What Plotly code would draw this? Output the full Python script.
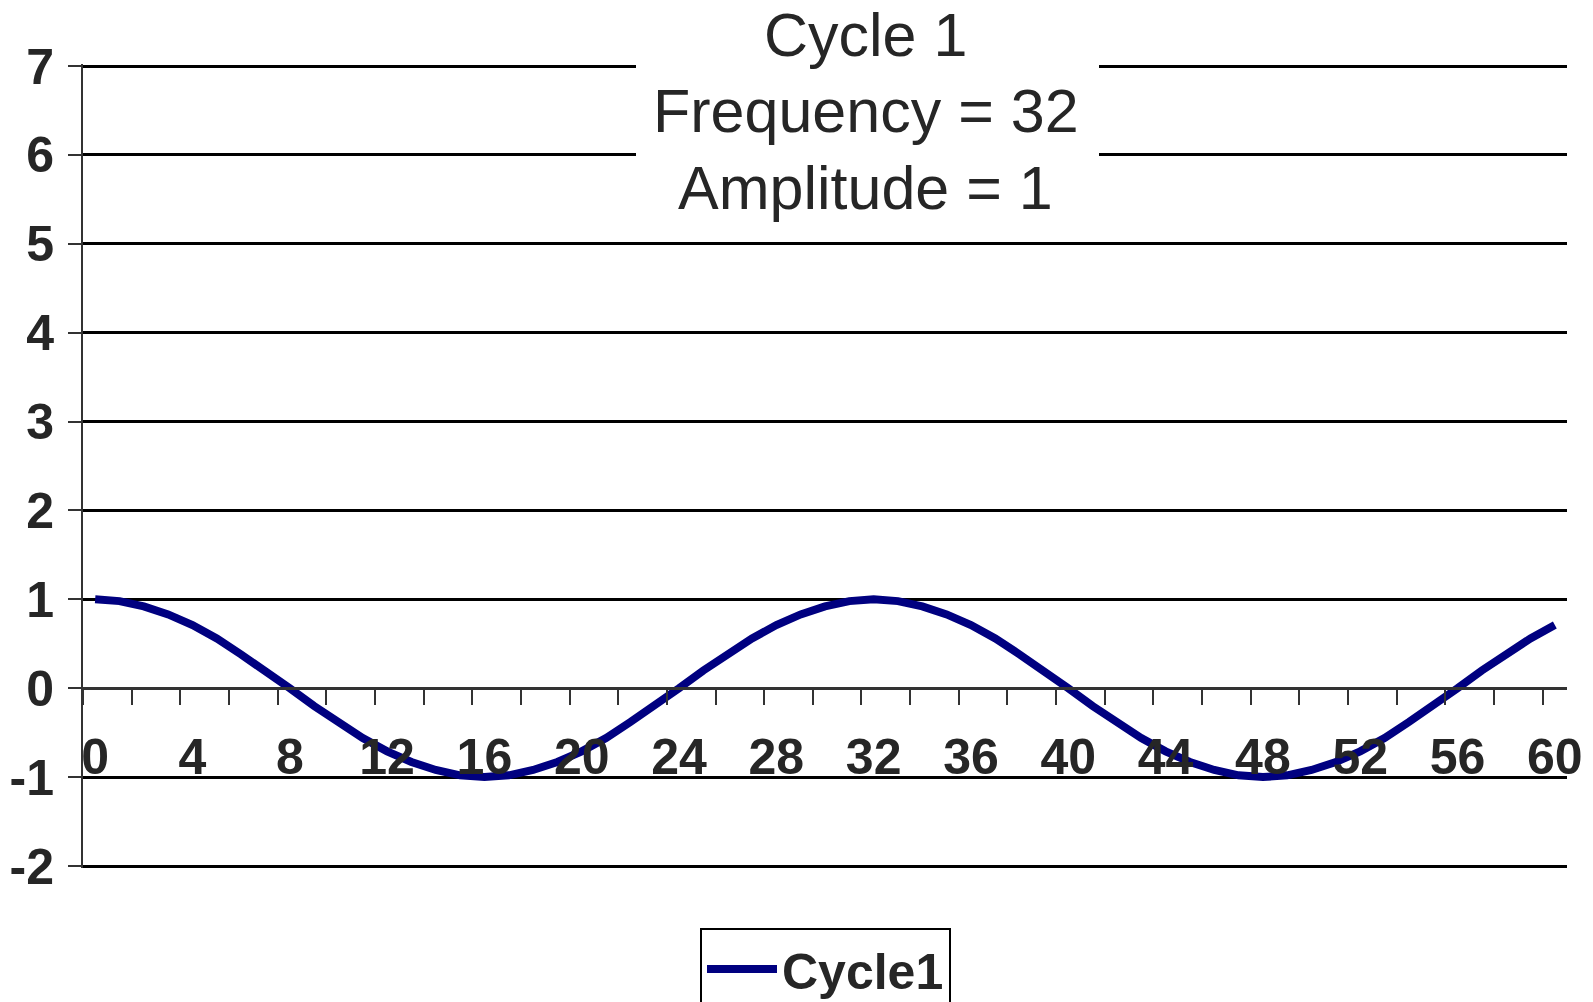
import plotly.graph_objects as go

NAVY = "#000080"
INK = "#262626"
FONT = "Liberation Sans, Arial, sans-serif"

# one value per sample point 0..60
x_points = list(range(61))
cycle1 = [
    1.00, 0.98, 0.92, 0.83, 0.71, 0.56, 0.38, 0.20, 0.00, -0.20,
    -0.38, -0.56, -0.71, -0.83, -0.92, -0.98, -1.00, -0.98, -0.92, -0.83,
    -0.71, -0.56, -0.38, -0.20, 0.00, 0.20, 0.38, 0.56, 0.71, 0.83,
    0.92, 0.98, 1.00, 0.98, 0.92, 0.83, 0.71, 0.56, 0.38, 0.20,
    0.00, -0.20, -0.38, -0.56, -0.71, -0.83, -0.92, -0.98, -1.00, -0.98,
    -0.92, -0.83, -0.71, -0.56, -0.38, -0.20, 0.00, 0.20, 0.38, 0.56,
    0.71,
]
x_tick_vals = [0, 4, 8, 12, 16, 20, 24, 28, 32, 36, 40, 44, 48, 52, 56, 60]
x_tick_text = ["0", "4", "8", "12", "16", "20", "24", "28", "32", "36", "40", "44", "48", "52", "56", "60"]
y_tick_vals = [-2, -1, 0, 1, 2, 3, 4, 5, 6, 7]
y_tick_text = ["-2", "-1", "0", "1", "2", "3", "4", "5", "6", "7"]
title_lines = ["Cycle 1", "Frequency = 32", "Amplitude = 1"]

# page pixels -> paper coords (page body adds 8px left/top)
PLOT_L, PLOT_W = 83, 1484
PLOT_T, PLOT_H = 64, 804


def px_x(p):
    return (p - PLOT_L) / PLOT_W


def px_y(p):
    return 1 - (p - PLOT_T) / PLOT_H


fig = go.Figure()
fig.add_trace(go.Scatter(
    x=x_points, y=cycle1, name="Cycle1", mode="lines",
    line=dict(color=NAVY, width=8), hoverinfo="skip",
))

fig.update_layout(
    width=1593, height=1002,
    margin=dict(l=75, r=34, t=56, b=142, autoexpand=False),
    paper_bgcolor="white", plot_bgcolor="white",
    font=dict(family=FONT, color=INK),
    showlegend=True,
    legend=dict(
        x=px_x(700), y=px_y(928), xanchor="left", yanchor="top",
        bordercolor="black", borderwidth=2, bgcolor="white",
        itemwidth=70,
        font=dict(size=50, family=FONT, color=INK, weight="bold"),
    ),
)

fig.update_xaxes(
    range=[-0.5, 60.5], tickmode="array", tickvals=x_tick_vals, ticktext=x_tick_text,
    ticks="", showgrid=False, zeroline=False,
    showline=True, linecolor="#333333", linewidth=3,
    anchor="free", position=px_y(688), ticklabelstandoff=24,
    tickfont=dict(size=50, family=FONT, color=INK, weight="bold"),
    minor=dict(tick0=-0.5, dtick=2, ticks="outside", ticklen=15,
               tickcolor="#333333", tickwidth=2, showgrid=False),
)
# range padded a hair so the 7 and -2 gridlines are not clipped at the edges
fig.update_yaxes(
    range=[-2.0225, 7.0225], tickmode="array", tickvals=y_tick_vals, ticktext=y_tick_text,
    showgrid=True, gridcolor="black", gridwidth=3, zeroline=False,
    showline=True, linecolor="#333333", linewidth=2,
    ticks="outside", ticklen=13, tickcolor="#333333", tickwidth=2,
    ticklabelstandoff=4,
    tickfont=dict(size=50, family=FONT, color=INK, weight="bold"),
)

# white box behind the title, hiding the top gridlines
fig.add_shape(type="rect", xref="paper", yref="paper",
              x0=px_x(636), x1=px_x(1099), y0=px_y(222), y1=px_y(0),
              fillcolor="white", line=dict(width=0), layer="above")

for line, ypix in zip(title_lines, [35, 111, 188]):
    fig.add_annotation(
        text=line, xref="paper", yref="paper",
        x=px_x(866), y=px_y(ypix),
        xanchor="center", yanchor="middle", showarrow=False,
        font=dict(size=61, family=FONT, color=INK),
    )

fig.write_html("out.html")
